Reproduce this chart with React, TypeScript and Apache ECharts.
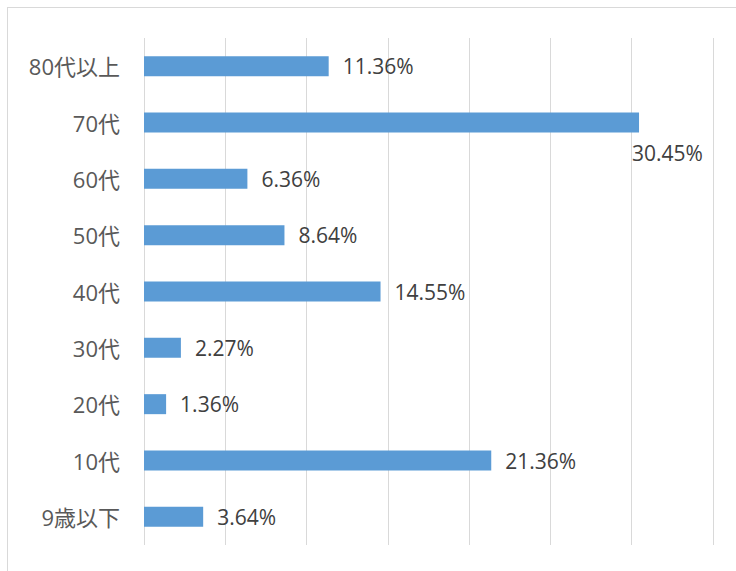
import React, { useEffect, useRef } from "react";
import * as echarts from "echarts";

const categories = ["9歳以下", "10代", "20代", "30代", "40代", "50代", "60代", "70代", "80代以上"];
const values = [3.64, 21.36, 1.36, 2.27, 14.55, 8.64, 6.36, 30.45, 11.36];
const xMax = 35;
const xInterval = 5;

export default function App() {
  const ref = useRef<HTMLDivElement>(null);
  useEffect(() => {
    if (!ref.current) return;
    const chart = echarts.init(ref.current, undefined, { renderer: "svg" });
    const data = values.map((v) => {
      if (v === 30.45) {
        return {
          value: v,
          label: { position: "right", offset: [-21, 30] },
        };
      }
      return { value: v };
    });
    chart.setOption({
      animation: false,
      grid: { left: 136, right: 23, top: 30, bottom: 26, containLabel: false },
      xAxis: {
        type: "value",
        min: 0,
        max: xMax,
        interval: xInterval,
        axisLabel: { show: false },
        axisLine: { show: false },
        axisTick: { show: false },
        splitLine: { show: true, lineStyle: { color: "#d9d9d9", width: 1 } },
      },
      yAxis: {
        type: "category",
        data: categories,
        axisLine: { show: false },
        axisTick: { show: false },
        axisLabel: {
          margin: 24,
          color: "#595959",
          fontSize: 22,
          fontFamily: "'Open Sans', 'Noto Sans CJK JP', sans-serif",
        },
      },
      series: [
        {
          type: "bar",
          data,
          barWidth: 20,
          itemStyle: { color: "#5b9bd5" },
          label: {
            show: true,
            position: "right",
            distance: 14,
            formatter: (p: any) => p.value.toFixed(2) + "%",
            color: "#404040",
            fontSize: 21,
            fontFamily: "'Open Sans', 'Noto Sans CJK JP', sans-serif",
          },
        },
      ],
    });
    return () => chart.dispose();
  }, []);
  return (
    <div
      style={{
        position: "absolute",
        left: 7,
        top: 7,
        width: 728,
        height: 563,
        borderTop: "1px solid #d9d9d9",
        borderLeft: "1px solid #d9d9d9",
        background: "#fff",
      }}
    >
      <div ref={ref} style={{ width: 728, height: 563 }} />
    </div>
  );
}
